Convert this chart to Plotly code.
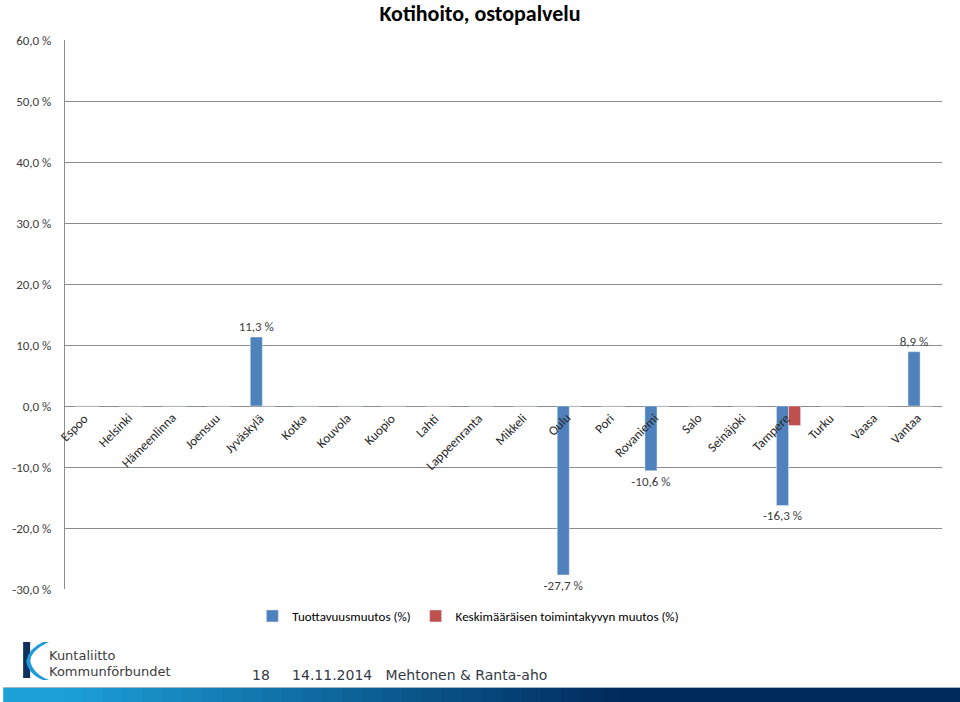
import plotly.graph_objects as go

categories = ["Espoo", "Helsinki", "Hämeenlinna", "Joensuu", "Jyväskylä", "Kotka", "Kouvola",
              "Kuopio", "Lahti", "Lappeenranta", "Mikkeli", "Oulu", "Pori", "Rovaniemi", "Salo",
              "Seinäjoki", "Tampere", "Turku", "Vaasa", "Vantaa"]
tuottavuus = [0, 0, 0, 0, 11.3, 0, 0, 0, 0, 0, 0, -27.7, 0, -10.6, 0, 0, -16.3, 0, 0, 8.9]
toimintakyky = [0, 0, 0, 0, 0, 0, 0, 0, 0, 0, 0, 0, 0, 0, 0, 0, -3.2, 0, 0, 0]
y_ticks = [-30, -20, -10, 0, 10, 20, 30, 40, 50, 60]
y_ticktext = [("%.1f %%" % v).replace(".", ",") for v in y_ticks]

W, H = 960, 702
L, R, T, B = 62, 18, 40, 113
PW, PH = W - L - R, H - T - B

def px(x):
    return (x - L) / PW

def py(y):
    return (H - B - y) / PH

def fmt(v):
    return ("%.1f %%" % v).replace(".", ",") if v != 0 else ""

FONT = "Carlito, Calibri, Lato, sans-serif"
TXT = "#404040"

fig = go.Figure()
fig.add_trace(go.Bar(x=categories, y=tuottavuus, name="Tuottavuusmuutos (%)",
                     marker_color="#4f81bd", text=[fmt(v) for v in tuottavuus],
                     textposition="outside", constraintext="none",
                     textfont=dict(size=13, color=TXT, family=FONT),
                     cliponaxis=False))
fig.add_trace(go.Bar(x=categories, y=toimintakyky, name="Keskimääräisen toimintakyvyn muutos (%)",
                     marker_color="#c0504d", cliponaxis=False))

annotations = []
for c in categories:
    annotations.append(dict(x=c, y=0, xref="x", yref="y", text=c, showarrow=False,
                            textangle=-45, xanchor="right", yanchor="top", xshift=7, yshift=-2,
                            font=dict(size=13, color="#262626", family=FONT)))

# footer texts
annotations += [
    dict(x=px(44), y=py(655), xref="paper", yref="paper", text="Kuntaliitto", showarrow=False,
         xanchor="left", yanchor="middle", font=dict(size=13, color="#3c3c3c", family="DejaVu Sans")),
    dict(x=px(44), y=py(671), xref="paper", yref="paper", text="Kommunförbundet", showarrow=False,
         xanchor="left", yanchor="middle", font=dict(size=13, color="#3c3c3c", family="DejaVu Sans")),
    dict(x=px(248), y=py(675), xref="paper", yref="paper",
         text="18&nbsp;&nbsp;&nbsp;&nbsp;&nbsp;14.11.2014&nbsp;&nbsp;&nbsp;Mehtonen &amp; Ranta-aho",
         showarrow=False, xanchor="left", yanchor="middle",
         font=dict(size=14, color="#333a45", family="DejaVu Sans")),
]

shapes = []
# bottom gradient bar
def lerp(a, b, t):
    return int(round(a + (b - a) * t))
c0, c1 = (27, 160, 216), (0, 42, 92)
n = 48
for i in range(n):
    x0 = i * W / n
    x1 = (i + 1) * W / n + 1
    t = min(1.0, max(0.0, ((x0 + x1) / 2 - 60) / 560))
    col = "rgb(%d,%d,%d)" % (lerp(c0[0], c1[0], t), lerp(c0[1], c1[1], t), lerp(c0[2], c1[2], t))
    shapes.append(dict(type="rect", xref="paper", yref="paper", x0=px(x0), x1=px(x1),
                       y0=py(703), y1=py(688), fillcolor=col, line_width=0, layer="above"))
shapes.append(dict(type="line", xref="paper", yref="paper", x0=px(0), x1=px(960), y0=py(687.5), y1=py(687.5),
                   line=dict(color="#9fb8c8", width=1)))
# logo: navy bar + cyan swoosh
shapes.append(dict(type="rect", xref="paper", yref="paper", x0=px(20), x1=px(27), y0=py(678), y1=py(642),
                   fillcolor="#10305e", line_width=0))
def P(x, y):
    return "%f,%f" % (px(x), py(y))
swoosh = ("M " + P(46, 642) + " Q " + P(28, 650) + " " + P(27, 661) +
          " Q " + P(30, 674) + " " + P(46, 680) + " L " + P(40, 680) +
          " Q " + P(25, 674) + " " + P(23, 661) + " Q " + P(26, 648) + " " + P(40, 642) + " Z")
shapes.append(dict(type="path", xref="paper", yref="paper", path=swoosh,
                   fillcolor="#1e9ad6", line_width=0))

fig.update_layout(
    width=W, height=H, margin=dict(l=L, r=R, t=T, b=B),
    paper_bgcolor="white", plot_bgcolor="white",
    barmode="group", bargap=0.45, bargroupgap=0,
    font=dict(family=FONT, color=TXT, size=12),
    title=dict(text="<b>Kotihoito, ostopalvelu</b>", x=0.5, xref="container", y=1 - 13 / H, yref="container",
               xanchor="center", yanchor="middle",
               font=dict(size=22, color="#000000", family="Liberation Sans Narrow, Arial Narrow, " + FONT)),
    xaxis=dict(range=[-0.5, len(categories) - 0.5], autorange=False,
               showticklabels=False, showgrid=False, zeroline=False, showline=False, ticks=""),
    yaxis=dict(range=[-30, 60], autorange=False, tickvals=y_ticks, ticktext=y_ticktext,
               showgrid=True, gridcolor="#8c8c8c", gridwidth=1, zeroline=False,
               showline=True, linecolor="#8c8c8c", linewidth=1, ticks="", ticklabelstandoff=10,
               tickfont=dict(size=13, color=TXT, family=FONT)),
    legend=dict(orientation="h", x=px(250), xanchor="left", y=py(616), yanchor="middle",
                font=dict(size=13, color="#000000", family=FONT), itemwidth=30,
                traceorder="normal"),
    annotations=annotations, shapes=shapes,
)

fig.write_html("out.html", config={"displayModeBar": False},
               post_script="document.body.style.margin='0px';")
